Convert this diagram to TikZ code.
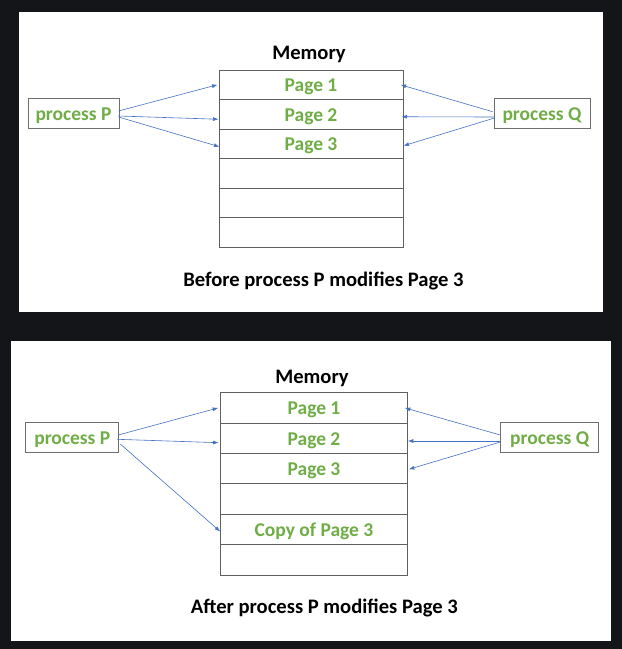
\documentclass[tikz,border=0pt]{standalone}
\usepackage{fontspec}
\setmainfont{Carlito}
\usetikzlibrary{arrows.meta,calc}
\definecolor{bgdark}{RGB}{20,21,25}
\definecolor{pgreen}{RGB}{112,173,71}
\definecolor{ablue}{RGB}{68,114,196}
\definecolor{bgray}{RGB}{95,95,95}
\definecolor{pgray}{RGB}{110,110,110}
\begin{document}
\begin{tikzpicture}[x=1pt,y=-1pt,
  txt/.style={font=\fontsize{19.5}{22}\selectfont\bfseries, text height=14pt, text depth=0pt},
  cellA/.style={txt, draw=bgray, line width=1pt, minimum width=184pt, minimum height=29.5pt, inner sep=0pt, text=pgreen},
  cellB/.style={txt, draw=bgray, line width=1pt, minimum width=186.6pt, minimum height=30.4pt, inner sep=0pt, text=pgreen},
  proc/.style={txt, draw=pgray, line width=0.9pt, minimum height=30pt, inner sep=0pt, text=pgreen},
  ptr/.style={draw=ablue, line width=0.6pt, -{Latex[length=5.5pt,width=4pt]}},
  ttl/.style={font=\fontsize{20.6}{24}\selectfont\bfseries, text height=14.5pt, text depth=0pt, text=black, inner sep=0pt}
]
\useasboundingbox (0,0) rectangle (622,649);
\fill[bgdark] (0,0) rectangle (622,649);
\fill[white] (19,12) rectangle (603,312);
\fill[white] (11,341) rectangle (611,641);

% ---------- top panel ----------
\node[ttl] (memA) at (309,52) {Memory};
\node[cellA] (t1) at (311,84.75) {Page 1};
\node[cellA] (t2) at (311,114.25) {Page 2};
\node[cellA] (t3) at (311,143.75) {Page 3};
\node[cellA] (t4) at (311,173.25) {};
\node[cellA] (t5) at (311,202.75) {};
\node[cellA] (t6) at (311,232.25) {};
\node[proc, minimum width=91pt] (pP) at (73.5,113) {process P};
\node[proc, minimum width=96pt] (pQ) at (542,113) {process Q};
\node[ttl] (capA) at (323.5,279.5) {Before process P modifies Page 3};

\draw[ptr] ($(pP.east)+(-1,-2)$) -- ($(t1.west)+(-1,0)$);
\draw[ptr] ($(pP.east)+(-1,3)$) -- ($(t2.west)+(0,5)$);
\draw[ptr] ($(pP.east)+(-1,4)$) -- ($(t3.west)+(1,3)$);
\draw[ptr] ($(pQ.west)+(-1,-1.3)$) -- ($(t1.east)+(-3,0)$);
\draw[ptr] ($(pQ.west)+(1,4)$) -- ($(t2.east)+(-2,2.5)$);
\draw[ptr] ($(pQ.west)+(1,5)$) -- ($(t3.east)+(0,2)$);

% ---------- bottom panel ----------
\node[ttl] (memB) at (312,376) {Memory};
\node[cellB] (c1) at (314,407.9) {Page 1};
\node[cellB] (c2) at (314,438.3) {Page 2};
\node[cellB] (c3) at (314,468.7) {Page 3};
\node[cellB] (c4) at (314,499.1) {};
\node[cellB] (c5) at (314,529.5) {Copy of Page 3};
\node[cellB] (c6) at (314,559.9) {};
\node[proc, minimum width=93pt] (pP2) at (72.3,437) {process P};
\node[proc, minimum width=98pt] (pQ2) at (549.7,437) {process Q};
\node[ttl] (capB) at (324.4,606.3) {After process P modifies Page 3};

\draw[ptr] ($(pP2.east)+(-1,-2)$) -- ($(c1.west)+(-2,0)$);
\draw[ptr] ($(pP2.east)+(-2,2.3)$) -- ($(c2.west)+(-1.5,4.4)$);
\draw[ptr] ($(pP2.east)+(1,7)$) -- ($(c5.west)+(0,2)$);
\draw[ptr] ($(pQ2.west)+(0,-2)$) -- ($(c1.east)+(-3,0)$);
\draw[ptr] ($(pQ2.west)+(0,4)$) -- ($(c2.east)+(0,2.7)$);
\draw[ptr] ($(pQ2.west)+(0,5)$) -- ($(c3.east)+(1,0.6)$);
\end{tikzpicture}
\end{document}
